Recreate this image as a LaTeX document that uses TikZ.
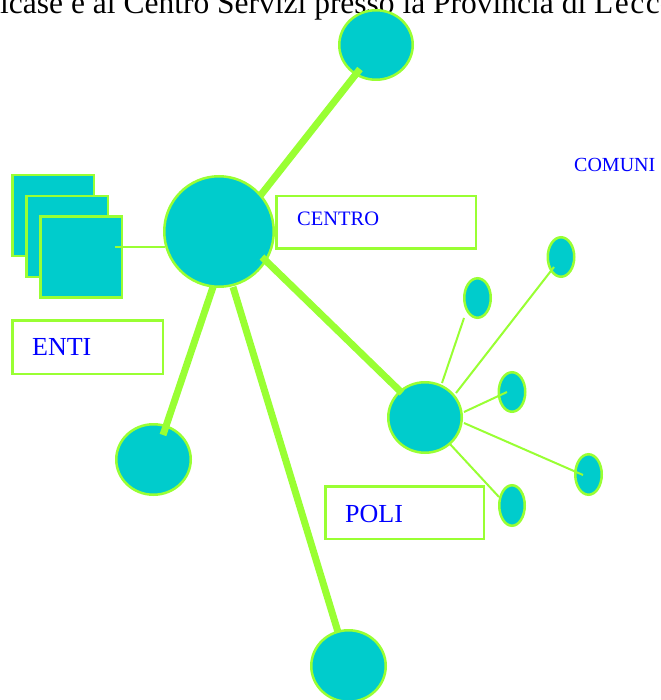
\documentclass[tikz,border=0pt]{standalone}
\usepackage{fontspec}
\setmainfont{Liberation Serif}
\usetikzlibrary{shapes.geometric}
\definecolor{fillc}{RGB}{0,204,204}
\definecolor{edgec}{RGB}{153,255,51}
\definecolor{txtc}{RGB}{0,0,255}
\begin{document}
\begin{tikzpicture}[x=1pt,y=-1pt,
  blob/.style={ellipse, draw=edgec, fill=fillc, line width=2.5pt, inner sep=0pt},
  sq/.style={rectangle, draw=edgec, fill=fillc, line width=2.5pt, inner sep=0pt, minimum width=81.5pt, minimum height=80.5pt},
  lblbox/.style={rectangle, draw=edgec, fill=white, line width=2.5pt, inner sep=0pt},
  biglink/.style={draw=edgec, line width=7pt},
  smalllink/.style={draw=edgec, line width=2pt},
  lab/.style={text=txtc, anchor=base west, inner sep=0pt}
]
\useasboundingbox (0,0) rectangle (660,700);
\fill[white] (0,0) rectangle (660,700);

% heading (clipped by the page)
\node[anchor=base west, inner sep=0pt, font=\fontsize{31.5}{36}\selectfont] (title) at (0,14) {icase e al Centro Servizi presso la Provincia di L\kern1.5pt e\kern1.5pt c\kern1.5pt co};

% squares (ENTI)
\node[sq] (sq1) at (53,215.5) {};
\node[sq] (sq2) at (67,236.5) {};
\node[sq] (sq3) at (81,257) {};

% circles
\node[blob, minimum width=73.5pt, minimum height=69.5pt] (top) at (376,45) {};
\node[blob, minimum width=109.5pt, minimum height=110.5pt] (centro) at (219,231.5) {};
\node[blob, minimum width=74.5pt, minimum height=70.5pt] (left) at (153.5,459.5) {};
\node[blob, minimum width=74.5pt, minimum height=71.5pt] (bottom) at (348.5,666) {};
\node[blob, minimum width=73.5pt, minimum height=70.5pt] (poli) at (425,417.5) {};

% small ellipses (COMUNI)
\node[blob, minimum width=26.5pt, minimum height=39.5pt] (e1) at (477.5,298) {};
\node[blob, minimum width=26.5pt, minimum height=39.5pt] (e2) at (561,257) {};
\node[blob, minimum width=26.5pt, minimum height=39.5pt] (e3) at (512,392) {};
\node[blob, minimum width=26.5pt, minimum height=40.5pt] (e4) at (588.5,474.5) {};
\node[blob, minimum width=25.5pt, minimum height=40.5pt] (e5) at (512,505.5) {};

% label boxes
\node[lblbox, minimum width=150.5pt, minimum height=53.5pt] (entibox) at (87.5,347) {};
\node[lblbox, minimum width=199.5pt, minimum height=52.5pt] (centrobox) at (376,222.5) {};
\node[lblbox, minimum width=158.5pt, minimum height=52.5pt] (polibox) at (404.5,512.5) {};

\node[lab, font=\fontsize{26}{30}\selectfont] (enti) at (32,355) {ENTI};
\node[lab, font=\fontsize{20.5}{24}\selectfont] (centrotxt) at (297,226) {CENTRO};
\node[lab, font=\fontsize{26}{30}\selectfont] (politxt) at (345,522) {POLI};
\node[lab, font=\fontsize{20}{24}\selectfont] (comuni) at (574,172) {COMUNI};

% connector end points
\coordinate (a1) at (360,69);   \coordinate (a2) at (260,196);
\coordinate (b1) at (262,257);  \coordinate (b2) at (402,393);
\coordinate (c1) at (213,287);  \coordinate (c2) at (163,435);
\coordinate (d1) at (233,287);  \coordinate (d2) at (338,632);
\coordinate (s1) at (115,247);  \coordinate (s2) at (165,247);
\coordinate (p1) at (442,383);  \coordinate (q1) at (464,318);
\coordinate (p2) at (456,393);  \coordinate (q2) at (554,267);
\coordinate (p3) at (464,412);  \coordinate (q3) at (507,392);
\coordinate (p4) at (464,423);  \coordinate (q4) at (583,475);
\coordinate (p5) at (449,443);  \coordinate (q5) at (499,497);

% connectors
\draw[biglink] (a1) -- (a2);
\draw[biglink] (b1) -- (b2);
\draw[biglink] (c1) -- (c2);
\draw[biglink] (d1) -- (d2);
\draw[smalllink] (s1) -- (s2);
\draw[smalllink] (p1) -- (q1);
\draw[smalllink] (p2) -- (q2);
\draw[smalllink] (p3) -- (q3);
\draw[smalllink] (p4) -- (q4);
\draw[smalllink] (p5) -- (q5);
\end{tikzpicture}
\end{document}
